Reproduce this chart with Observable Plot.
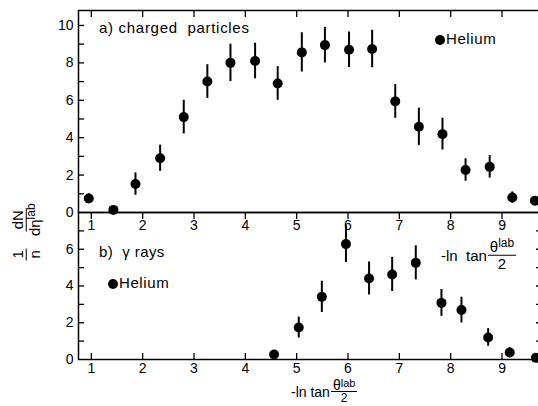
<!DOCTYPE html>
<html>
<head>
<meta charset="utf-8">
<script src="https://cdn.jsdelivr.net/npm/d3@7"></script>
<script src="https://cdn.jsdelivr.net/npm/@observablehq/plot@0.6"></script>
<style>
  html, body { margin: 0; padding: 0; background: #fff; overflow: hidden; }
  #wrap { position: relative; width: 538px; height: 406px; font-family: "Liberation Sans", Arial, sans-serif; color: #000; }
  #wrap svg { position: absolute; left: 0; top: 0; }
  .lbl { position: absolute; white-space: nowrap; font-size: 15px; line-height: 1; }
  .frac { display: inline-flex; flex-direction: column; align-items: center; line-height: 1.05; }
  .frac > .num { border-bottom: 1.5px solid #000; padding: 0 2px; }
  .frac sup { font-size: 12px; vertical-align: 5px; line-height: 0; }
  .tight { font-size: 14px; }
  .tight .frac { line-height: 0.85; }
  .tight .frac > span:last-child { font-size: 12px; line-height: 1.05; }
  .tight .frac sup { font-size: 11px; vertical-align: 3px; }
  .dot { display: inline-block; width: 10px; height: 10px; border-radius: 50%; background: #000; vertical-align: -1px; margin-right: 1px; }
</style>
</head>
<body>
<div id="wrap"></div>
<script>
// ---- data ----
const xTicks = [1, 2, 3, 4, 5, 6, 7, 8, 9];
const yTicksTopLabels = [0, 2, 4, 6, 8, 10];
const yTicksTopAll = [1, 2, 3, 4, 5, 6, 7, 8, 9, 10];
const yTicksBotLabels = [0, 2, 4, 6];
const yTicksBotAll = [1, 2, 3, 4, 5, 6, 7];

// a) charged particles
const etaA = [0.95, 1.43, 1.86, 2.34, 2.80, 3.26, 3.71, 4.19, 4.63, 5.10, 5.55, 6.02, 6.47, 6.92, 7.38, 7.84, 8.29, 8.76, 9.20, 9.64];
const valA = [0.75, 0.14, 1.52, 2.90, 5.10, 7.00, 8.00, 8.10, 6.90, 8.56, 8.95, 8.70, 8.74, 5.94, 4.58, 4.19, 2.27, 2.44, 0.80, 0.63];
const errA = [0.25, 0, 0.60, 0.70, 0.90, 0.90, 1.00, 0.95, 0.90, 1.05, 0.95, 0.95, 1.00, 0.90, 1.00, 0.85, 0.60, 0.60, 0.30, 0];

// b) gamma rays
const etaB = [4.56, 5.04, 5.49, 5.96, 6.41, 6.86, 7.32, 7.82, 8.21, 8.73, 9.15, 9.66];
const valB = [0.27, 1.74, 3.41, 6.28, 4.41, 4.63, 5.26, 3.08, 2.69, 1.20, 0.38, 0.09];
const errB = [0, 0.57, 0.85, 1.00, 0.90, 0.93, 0.93, 0.73, 0.70, 0.48, 0.25, 0];

const xDomain = [0.75, 9.73];

const rowsA = etaA.map((x, i) => ({x, y: valA[i], lo: valA[i] - errA[i], hi: valA[i] + errA[i]}));
const rowsB = etaB.map((x, i) => ({x, y: valB[i], lo: valB[i] - errB[i], hi: valB[i] + errB[i]}));

const common = {
  width: 538,
  marginLeft: 78,
  marginRight: -1,
  style: {background: "transparent", fontFamily: "'Liberation Sans', Arial, sans-serif", fontSize: "14px", color: "#000", overflow: "visible"}
};
const blank = () => "";

const plotTop = Plot.plot({
  ...common,
  height: 240,
  marginTop: 10,
  marginBottom: 28,
  x: {domain: xDomain},
  y: {domain: [0, 10.8]},
  marks: [
    Plot.frame({strokeWidth: 1.5}),
    Plot.axisY({ticks: yTicksTopLabels, tickSize: 0, tickPadding: 5, label: null}),
    Plot.axisY({ticks: yTicksTopAll, tickSize: -6, tickFormat: blank, label: null, strokeWidth: 1.3}),
    Plot.axisX({anchor: "bottom", ticks: xTicks, tickSize: 7, tickPadding: 1, label: null, strokeWidth: 1.3}),
    Plot.axisX({anchor: "top", ticks: xTicks, tickSize: -6, tickFormat: blank, label: null, strokeWidth: 1.3}),
    Plot.ruleX(rowsA, {x: "x", y1: "lo", y2: "hi", strokeWidth: 2}),
    Plot.dot(rowsA, {x: "x", y: "y", r: 5, fill: "#000"})
  ]
});

const plotBot = Plot.plot({
  ...common,
  height: 406,
  marginTop: 212,
  marginBottom: 47,
  x: {domain: xDomain},
  y: {domain: [0, 8]},
  marks: [
    Plot.frame({strokeWidth: 1.5}),
    Plot.axisY({ticks: yTicksBotLabels, tickSize: 0, tickPadding: 5, label: null}),
    Plot.axisY({ticks: yTicksBotAll, tickSize: -6, tickFormat: blank, label: null, strokeWidth: 1.3}),
    Plot.axisY({anchor: "right", ticks: yTicksBotAll, tickSize: -4, tickFormat: blank, label: null, strokeWidth: 1.3}),
    Plot.axisX({anchor: "bottom", ticks: xTicks, tickSize: 0, tickPadding: 4, label: null}),
    Plot.axisX({anchor: "bottom", ticks: xTicks, tickSize: -6, tickFormat: blank, label: null, strokeWidth: 1.3}),
    Plot.ruleX(rowsB, {x: "x", y1: "lo", y2: "hi", strokeWidth: 2}),
    Plot.dot(rowsB, {x: "x", y: "y", r: 5, fill: "#000"})
  ]
});

const wrap = document.getElementById("wrap");
wrap.appendChild(plotBot);
wrap.appendChild(plotTop);

function addLabel(html, css, cls) {
  const d = document.createElement("div");
  d.className = "lbl" + (cls ? " " + cls : "");
  d.innerHTML = html;
  Object.assign(d.style, css);
  wrap.appendChild(d);
  return d;
}

// panel titles and legends
addLabel("a)&nbsp;charged&nbsp;&nbsp;particles", {left: "99px", top: "20px", letterSpacing: "0.7px"});
addLabel('<span class="dot"></span>Helium', {left: "435px", top: "31px", letterSpacing: "0.6px"});
addLabel("b)&nbsp;&nbsp;γ rays", {left: "99px", top: "244px", letterSpacing: "0.4px"});
addLabel('<span class="dot"></span>Helium', {left: "108px", top: "275px", letterSpacing: "0.6px"});

// x-axis titles
const xTitle = '<span>-ln&nbsp;&nbsp;tan</span><span class="frac"><span class="num">θ<sup>lab</sup></span><span>2</span></span>';
addLabel(xTitle, {left: "441px", top: "255px", transform: "translateY(-50%)", display: "flex", alignItems: "center", gap: "1px"});
addLabel(xTitle.replace("&nbsp;&nbsp;", "&nbsp;"), {left: "291px", bottom: "1px", display: "flex", alignItems: "center", gap: "1px"}, "tight");

// y-axis title (rotated)
addLabel('<span class="frac"><span class="num">1</span><span>n</span></span>&nbsp;<span class="frac"><span class="num">dN</span><span>dη<sup>lab</sup></span></span>',
  {left: "26px", top: "232px", transform: "translate(-50%,-50%) rotate(-90deg)", display: "flex", alignItems: "center", gap: "4px"});
</script>
</body>
</html>
